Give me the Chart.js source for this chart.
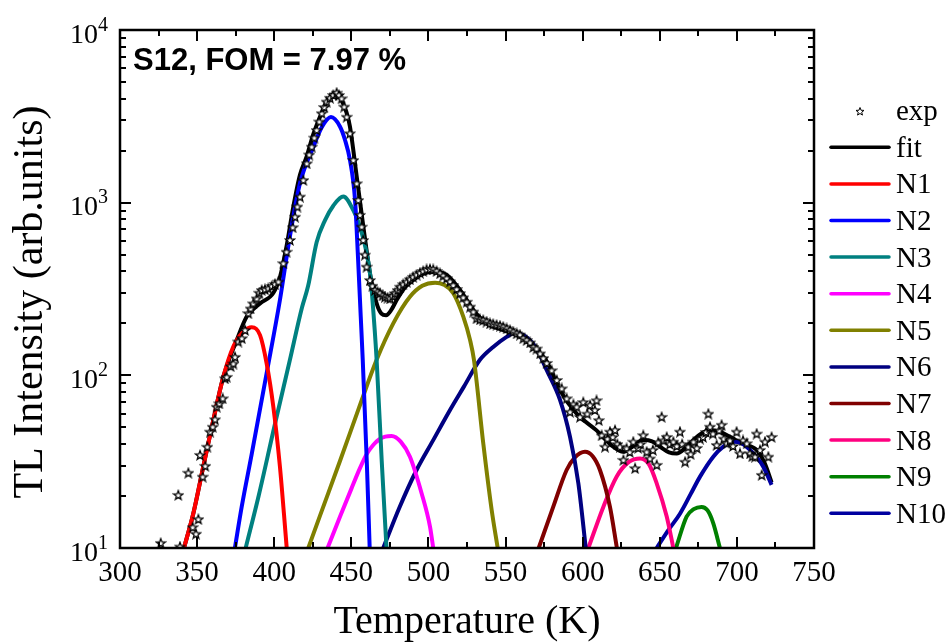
<!DOCTYPE html>
<html>
<head>
<meta charset="utf-8">
<script src="https://cdn.jsdelivr.net/npm/chart.js@4.4.1/dist/chart.umd.min.js"></script>
<style>
  html, body { margin: 0; padding: 0; background: #fff; }
  #wrap { width: 947px; height: 643px; }
</style>
</head>
<body>
<div id="wrap"><canvas id="myChart" width="947" height="643"></canvas></div>
<script>
// values: [temperature K, TL intensity]
const expPts = [
  [326.4,10.7],[337.8,20.3],[338.9,10.2],[344.3,27.3],[347.1,13.2],[349.3,12.1],[350.8,14.7],[351.9,34.6],
  [353.6,25.9],[355.3,29.9],[356.6,38.6],[358.4,47.2],[360.1,50.4],[361.6,55.6],[362.7,65.8],[364.4,68.8],
  [366.6,73.6],[368.1,96.1],[369.2,98],[371.8,113],[373.5,117],[374.6,128],[376.7,157],[379.0,164],
  [381.1,183],[383.2,229],[384.7,244],[386.4,261],[388.6,279],[390.3,301],[391.9,312],[394.0,315],
  [396.2,319],[398.4,329],[400.5,338],[402.7,349],[405.9,446],[408.0,520],[410.2,608],[412.0,720],
  [413.5,829],[415.0,950],[416.7,1084],[418.9,1352],[421.1,1690],[422.7,1900],[424.3,2110],[426.0,2380],
  [427.5,2636],[429.2,2950],[430.8,3296],[432.4,3580],[434.0,3849],[436.2,4050],[438.3,4206],[440.5,4336],
  [442.0,4200],[443.7,4018],[445.4,3600],[447.0,3147],[449.1,2522],[451.3,1766],[453.5,1294],[454.5,1036],
  [455.6,850],[456.7,726],[457.7,608],[458.8,500],[459.9,426],[462.1,356],[463.7,330],[465.3,312],
  [467.0,305],[468.6,299],[470.2,290],[471.8,285],[473.5,282],[475.1,279],[476.7,288],[478.3,299],
  [480.0,312],[481.6,326],[483.7,337],[485.9,348],[488.0,360],[490.1,372],[492.3,383],[494.5,393],
  [496.6,402],[498.8,411],[501.0,413],[503.1,411],[505.3,402],[507.5,390],[509.6,378],[511.8,365],
  [514.0,350],[516.1,333],[518.3,316],[520.5,299],[522.6,283],[524.8,267],[527.0,250],[529.1,234],
  [531.2,214],[533.4,211],[535.5,209],[537.7,205],[539.9,200],[542.0,198],[544.2,196],[546.4,194],
  [548.5,191],[550.7,187],[552.9,183],[555.0,179],[557.2,175],[559.4,172],[561.5,164],[563.7,160],
  [565.9,155],[568.0,146],[570.1,143],[572.4,134],[574.5,126],[576.7,118],[579.9,107],[583.2,94],
  [586.4,84],[589.6,73.6],[591.8,61.5],[594.0,68],[596.1,65.8],[598.3,57.5],[600.4,70],[603.0,60],
  [604.8,67.3],[607.9,63],[609.0,71.7],[610.5,55],[612.3,45],[614.5,38.6],[616.0,43],[617.7,47.2],
  [619.5,44],[621.0,48.2],[622.5,40],[624.2,38.6],[626.4,32.4],[628.5,37.8],[630.5,36],[632.8,41.3],
  [634.0,29],[636.0,38],[637.5,40],[639.3,45],[641.5,36.1],[643.6,33],[645.5,37],[648.0,30.3],
  [649.0,41],[651.2,57.5],[652.5,42],[654.5,44],[656.5,40],[658.8,41.3],[661.0,39],[663.1,47.2],
  [664.5,40],[666.4,31.6],[668.5,38.6],[670.0,35],[671.8,41.3],[674.0,38],[676.1,43],[678.0,44],
  [680.0,47],[681.5,60],[682.6,50.4],[684.5,46],[686.9,39.5],[688.5,48],[690.1,51.7],[691.5,43],
  [693.4,40.4],[695.5,42],[697.5,39],[699.8,47.2],[702.0,35.3],[704.0,42],[706.4,40.4],[708.5,35.3],
  [710.0,34],[711.8,33.8],[712.8,46],[715.0,37],[716.1,26.5],[718.2,41.3],[720.4,33.8],[722.5,44]
];

const fitPts = [
  [341.5,10],[347.5,15.8],[354,29.6],[360.5,55],[367,98],[375.7,160],[382.2,219],[390.8,261],
  [399.4,300],[403.7,370],[408,560],[412.4,949],[416.7,1450],[421,1846],[425.4,2500],[429.7,3147],
  [434,3800],[439.4,4315],[443.7,3900],[447,3300],[449.1,2754],[453.5,1413],[457.8,726],[462.1,390],
  [466.4,261],[469.5,228],[472.5,223],[476,240],[479.4,273],[485,325],[490.1,356],[496,385],
  [503.1,398],[511.8,381],[520.5,312],[529.1,239],[537.7,200],[548.5,183],[559.4,168],[564,158],
  [570.1,140],[576.7,120],[585.3,82],[596.1,60],[609,48],[619.8,38.6],[626.3,36.1],[632,38.5],
  [639.3,42.2],[645,41.5],[650.2,38.6],[656,35.8],[661,35.3],[666,37.5],[671.8,42.2],[677,46],
  [682.6,48],[689,47],[695.6,44],[704.1,40],[712.8,37],[718,31],[722.5,24]
];

const n1Pts = [[341.5,10],[347.5,15.8],[354,29.6],[360.5,55],[367,98],[373.5,147],[380,179],[385.4,190],
  [390.8,171],[395.1,117],[399.4,66],[403.7,29.6],[406.3,15.8],[408.1,10]];
const n2Pts = [[374.5,10],[378.9,17.3],[385.4,35],[395.1,103],[403.7,273],[410.2,640],[416.7,1294],[425.4,2108],
  [431,2750],[436.8,3130],[442.7,2754],[445.9,2307],[449.1,1766],[452.4,1036],[454.4,466],[456.1,219],
  [457.4,123],[460,32],[461.9,10]];
const n3Pts = [[381.5,10],[390,20.2],[400,50],[410,121],[418,247],[422,330],[427.5,590],[432.9,790],
  [438.3,960],[444.8,1084],[451.2,906],[455.6,726],[462.1,390],[463.7,273],[466.4,123],[469.7,32],[472.8,10]];
const n4Pts = [[434.6,10],[442.7,15.2],[450,22],[455.6,29],[460,35],[464.2,39.5],[468,42.5],[472,44.2],
  [476.1,44.6],[482,41.3],[488,33.8],[495.6,20.7],[501,13.3],[503.1,10]];
const n5Pts = [[422.1,10],[429.7,15.4],[442.7,32],[455,65],[466.4,123],[477.2,200],[488,285],[496,330],
  [504.3,344],[510,335],[516.1,299],[522.6,219],[527,160],[529.5,123],[535.6,40],[541,16.6],[544.9,10]];
const n6Pts = [[470.7,10],[481,17],[492.3,28.3],[503,42],[514,63],[523,86],[533.4,123],[542,146],
  [550.7,167],[555,175],[562,170],[570,143],[576.7,107],[585.3,72],[591.8,44],[597.2,23.7],[602,10]];
const n7Pts = [[571.5,10],[580.9,17.3],[589.6,28.3],[595,33.5],[601.5,36.1],[606.5,34],[611.2,28.3],
  [617.7,17.3],[622.2,10]];
const n8Pts = [[603.7,10],[613.4,17.3],[622,25.9],[630,31.5],[637.2,33],[643,30.5],[648,23.7],[654.5,15.2],
  [658.8,10]];
const n9Pts = [[660.5,10],[667.4,15.2],[672,16.8],[677.1,17.3],[681,16.5],[684.7,13.9],[689,10]];
const n10Pts = [[648,10],[655,12.5],[663.1,15.8],[670,20.5],[676.1,25.9],[684.7,33.8],[691,38.5],[697.6,41.3],
  [703,40.5],[708.5,37],[717.1,29.6],[722.5,23.2]];

const seriesNames = ["N1","N2","N3","N4","N5","N6","N7","N8","N9","N10"];
const seriesColors = ["#ff0000","#0000ff","#008080","#ff00ff","#808000","#000080","#800000","#ff0080","#008000","#0000a0"];
const seriesPts = [n1Pts,n2Pts,n3Pts,n4Pts,n5Pts,n6Pts,n7Pts,n8Pts,n9Pts,n10Pts];

const xTicks = [300,350,400,450,500,550,600,650,700,750];
const yDecades = [10,100,1000,10000];

const SERIF = '"Liberation Serif", "Times New Roman", serif';

function toXY(list){
  return list.map(p => ({x: p[0], y: p[1]}));
}

function starPath(c, cx, cy, ro, ri){
  c.beginPath();
  for(let i = 0; i < 10; i++){
    const r = i % 2 === 0 ? ro : ri;
    const a = -Math.PI / 2 + i * Math.PI / 5;
    const px = cx + r * Math.cos(a), py = cy + r * Math.sin(a);
    if(i === 0) c.moveTo(px, py); else c.lineTo(px, py);
  }
  c.closePath();
}

const starImg = document.createElement("canvas");
starImg.width = 12;
starImg.height = 12;
const sc = starImg.getContext("2d");
starPath(sc, 6, 6.5, 4.8, 2.0);
sc.fillStyle = "#fff";
sc.fill();
sc.lineWidth = 1.3;
sc.strokeStyle = "#000";
sc.stroke();

const datasets = [
  {
    label: "exp",
    data: toXY(expPts),
    showLine: false,
    pointStyle: starImg,
    pointRadius: 5,
    borderColor: "#000",
    backgroundColor: "#fff",
    order: 0,
    clip: 0
  },
  {
    label: "fit",
    data: toXY(fitPts),
    borderColor: "#000",
    backgroundColor: "#000",
    borderWidth: 4,
    pointRadius: 0,
    cubicInterpolationMode: "monotone",
    order: 2,
    clip: 0
  }
];
seriesNames.forEach((name, i) => {
  datasets.push({
    label: name,
    data: toXY(seriesPts[i]),
    borderColor: seriesColors[i],
    backgroundColor: seriesColors[i],
    borderWidth: 4,
    pointRadius: 0,
    cubicInterpolationMode: "monotone",
    order: 1,
    clip: 0
  });
});

// frame, inward ticks, y labels, axis title, note and legend
const decor = {
  id: "decor",
  afterDraw(chart){
    const ctx = chart.ctx;
    const a = chart.chartArea;
    const xs = chart.scales.x, ys = chart.scales.y;
    ctx.save();
    ctx.strokeStyle = "#000";
    ctx.lineWidth = 2;
    ctx.beginPath();
    for(let t = 300; t <= 750; t += 25){
      const px = Math.round(xs.getPixelForValue(t));
      const len = t % 50 === 0 ? 11 : 6;
      ctx.moveTo(px, a.bottom); ctx.lineTo(px, a.bottom - len);
      ctx.moveTo(px, a.top); ctx.lineTo(px, a.top + len);
    }
    for(let d = 10; d < 10000; d *= 10){
      for(let m = 1; m <= 9; m++){
        const py = Math.round(ys.getPixelForValue(d * m));
        const len = m === 1 ? 11 : 6;
        ctx.moveTo(a.left, py); ctx.lineTo(a.left + len, py);
        ctx.moveTo(a.right, py); ctx.lineTo(a.right - len, py);
      }
    }
    ctx.stroke();
    ctx.lineWidth = 2.5;
    ctx.strokeRect(a.left, a.top, a.right - a.left, a.bottom - a.top);

    // y tick labels 10^n
    ctx.fillStyle = "#000";
    ctx.textBaseline = "alphabetic";
    yDecades.forEach(v => {
      const py = ys.getPixelForValue(v);
      const exp = String(Math.round(Math.log10(v)));
      ctx.font = "20px " + SERIF;
      ctx.textAlign = "right";
      ctx.fillText(exp, 108, py + 0.5);
      const ew = ctx.measureText(exp).width;
      ctx.font = "28px " + SERIF;
      ctx.fillText("10", 108 - ew, py + 12.5);
    });

    // y axis title
    ctx.save();
    ctx.translate(42, 302);
    ctx.rotate(-Math.PI / 2);
    ctx.textAlign = "center";
    ctx.font = "42px " + SERIF;
    ctx.fillText("TL Intensity (arb.units)", 0, 0);
    ctx.restore();

    // sample note
    ctx.textAlign = "left";
    ctx.font = "bold 31px \"Liberation Sans\", Arial, sans-serif";
    ctx.fillText("S12, FOM = 7.97 %", 133, 70);

    // legend
    const rowY0 = 110.7, step = 36.6;
    chart.data.datasets.forEach((ds, i) => {
      const y = rowY0 + i * step;
      if(ds.showLine === false){
        starPath(ctx, 860, y + 1, 4.2, 1.8);
        ctx.fillStyle = "#fff";
        ctx.fill();
        ctx.lineWidth = 1;
        ctx.strokeStyle = "#000";
        ctx.stroke();
      }else{
        ctx.beginPath();
        ctx.lineWidth = 3.5;
        ctx.lineCap = "round";
        ctx.strokeStyle = ds.borderColor;
        ctx.moveTo(831, y);
        ctx.lineTo(889, y);
        ctx.stroke();
      }
      ctx.fillStyle = "#000";
      ctx.font = "29px " + SERIF;
      ctx.fillText(ds.label, 896, y + 9.5);
    });
    ctx.restore();
  }
};

const ctx = document.getElementById("myChart").getContext("2d");
const myChart = new Chart(ctx, {
  type: "line",
  data: { datasets: datasets },
  plugins: [decor],
  options: {
    responsive: false,
    animation: false,
    devicePixelRatio: 1,
    layout: { padding: { top: 30, right: 133, left: 0, bottom: 0 } },
    plugins: { legend: { display: false }, tooltip: { enabled: false } },
    scales: {
      x: {
        type: "linear",
        min: 300,
        max: 750,
        afterBuildTicks: s => { s.ticks = xTicks.map(v => ({value: v})); },
        afterFit: s => { s.height = 95; },
        grid: { display: false, drawTicks: false },
        border: { display: false },
        ticks: { color: "#000", padding: 8, maxRotation: 0, font: { family: SERIF, size: 29, lineHeight: 1.2 } },
        title: { display: true, text: "Temperature (K)", color: "#000", padding: { top: 0, bottom: 1 },
                 font: { family: SERIF, size: 40, lineHeight: 1 } }
      },
      y: {
        type: "logarithmic",
        min: 10,
        max: 10000,
        afterFit: s => { s.width = 120; },
        grid: { display: false, drawTicks: false },
        border: { display: false },
        ticks: { display: false },
        title: { display: false }
      }
    }
  }
});
</script>
</body>
</html>
